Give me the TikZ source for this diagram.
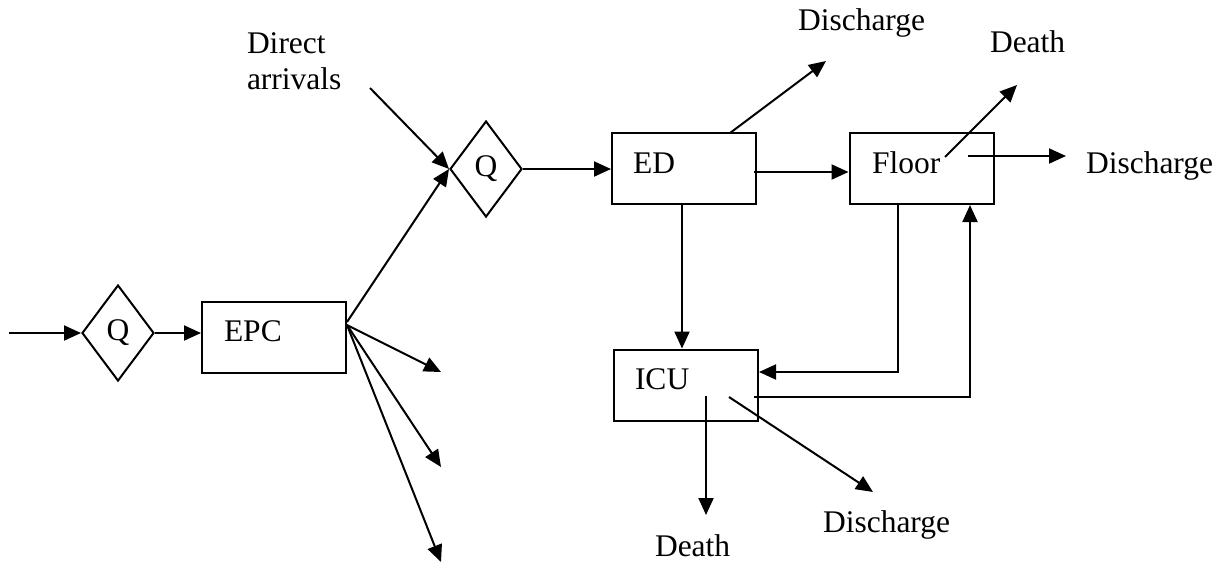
\documentclass[tikz,border=0pt]{standalone}
\usepackage{fontspec}
\setmainfont{Liberation Serif}
\usetikzlibrary{arrows.meta,shapes.geometric}
\begin{document}
\begin{tikzpicture}[x=1pt,y=-1pt,line width=2pt,
  txt/.style={font=\fontsize{31.5}{36}\selectfont,inner sep=0pt,anchor=base west},
  qbox/.style={draw,shape=diamond,minimum width=72pt,minimum height=96pt,inner sep=0pt,font=\fontsize{31.5}{36}\selectfont},
  stagebox/.style={draw,rectangle,minimum width=144pt,minimum height=71pt,inner sep=0pt},
  arr/.style={-{Triangle[length=17pt,width=15pt]}}]
\useasboundingbox (0,0) rectangle (1231,566);
% nodes
\node[qbox] (q1) at (118,333) {Q};
\node[qbox] (q2) at (486,169) {Q};
\node[stagebox] (epc) at (274,337) {};
\node[stagebox] (ed) at (684,168.5) {};
\node[stagebox] (floor) at (921.5,168.5) {};
\node[stagebox] (icu) at (686,385) {};
\node[txt] (epct) at (223,341) {EPC};
\node[txt] (edt) at (632,173) {ED};
\node[txt] (floort) at (871,173) {Floor};
\node[txt] (icut) at (634,389) {ICU};
\node[txt,align=left] (direct) at (246,89) {Direct\\arrivals};
\node[txt] (dis1) at (797,30) {Discharge};
\node[txt] (death1) at (989,52) {Death};
\node[txt] (dis2) at (1085,173) {Discharge};
\node[txt] (dis3) at (822,532) {Discharge};
\node[txt] (death2) at (654,556) {Death};
% coordinates for free ends
\coordinate (in) at (9,333);
\coordinate (fanA) at (347,322);
\coordinate (fanB) at (347,325);
\coordinate (out1) at (441,372);
\coordinate (out2) at (441,467);
\coordinate (out3) at (441,562);
\coordinate (dirS) at (370,88);
\coordinate (edS) at (730,133);
\coordinate (edE) at (826,61);
\coordinate (flDS) at (945,157);
\coordinate (flDE) at (1017,85);
\coordinate (flCS) at (968,156);
\coordinate (flCE) at (1066,156);
\coordinate (icDS) at (706,396);
\coordinate (icDE) at (706,515);
\coordinate (icCS) at (729,397);
\coordinate (icCE) at (873,492);
% connectors
\draw[arr] (in) -- (q1.west);
\draw[arr] (q1.east) -- (q1.east -| epc.west);
\draw[arr] (fanA) -- (q2.west);
\draw[arr] (fanB) -- (out1);
\draw[arr] (fanB) -- (out2);
\draw[arr] (fanB) -- (out3);
\draw[arr] (dirS) -- (q2.west);
\draw[arr] (q2.east) -- (q2.east -| ed.west);
\draw[arr] (edS) -- (edE);
\draw[arr] ([xshift=-3pt,yshift=-3.5pt]ed.east) -- ([yshift=-3.5pt]floor.west);
\draw[arr] (flDS) -- (flDE);
\draw[arr] (flCS) -- (flCE);
\draw[arr] ([xshift=-2pt]ed.south) -- ([xshift=-2pt]ed.south |- icu.north);
\draw[arr] ([xshift=-23.5pt]floor.south) |- ([yshift=13pt]icu.east);
\draw[arr] ([xshift=-5pt,yshift=-12pt]icu.east) -| ([xshift=48.5pt]floor.south);
\draw[arr] (icDS) -- (icDE);
\draw[arr] (icCS) -- (icCE);
\end{tikzpicture}
\end{document}
